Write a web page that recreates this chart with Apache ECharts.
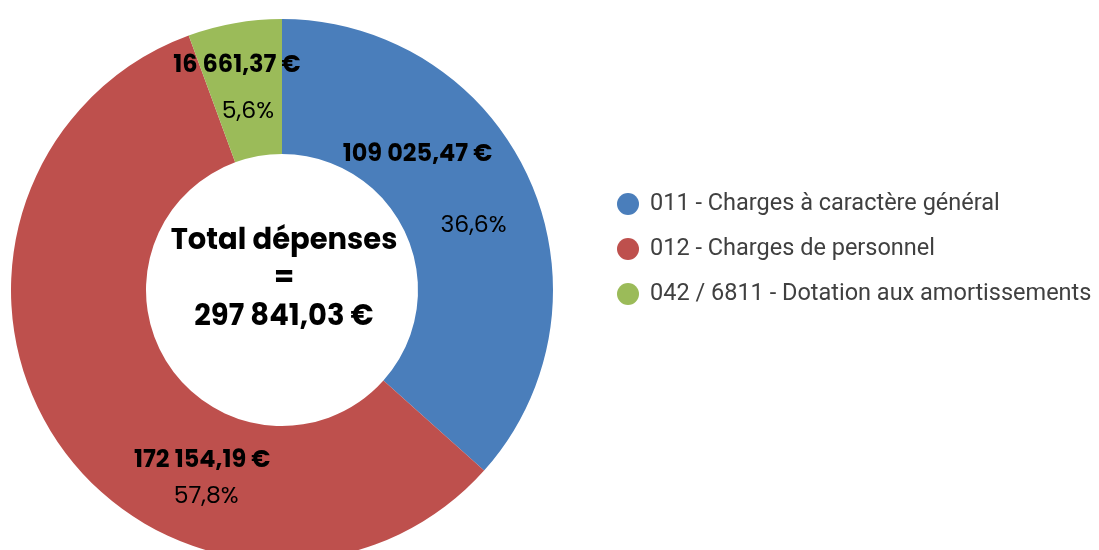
<!DOCTYPE html>
<html>
<head>
<meta charset="utf-8">
<script src="https://cdn.jsdelivr.net/npm/echarts@6/dist/echarts.min.js"></script>
<style>
  html, body { margin: 0; padding: 0; background: #fff; }
  #chart { width: 1099px; height: 550px; }
</style>
</head>
<body>
<div id="chart"></div>
<script>
// Chart data
const categories = [
  "011 - Charges à caractère général",
  "012 - Charges de personnel",
  "042 / 6811 - Dotation aux amortissements"
];
const amounts = [109025.47, 172154.19, 16661.37];
const colors = ["#4A7EBB", "#BE504D", "#9BBB59"];
const totalLabel = "Total dépenses";

// Label nudges from the default 'inside' spot
const valueOffsets = [[-53, -51], [91, 55], [-9, -21]];
const pctOffsets = [[3, 20], [95, 91], [2, 25]];

// French number format: 297 841,03
const fmtEuro = (v) => {
  const parts = v.toFixed(2).split(".");
  const intPart = parts[0].replace(/\B(?=(\d{3})+(?!\d))/g, " ");
  return intPart + "," + parts[1] + " €";
};
const fmtPct = (p) => p.toFixed(1).replace(".", ",") + "%";

const total = amounts.reduce((a, b) => a + b, 0);
const labelFont = "Poppins, 'Open Sans', sans-serif";

const chart = echarts.init(document.getElementById("chart"));

const center = [282, 290];
const radius = [136, 271];

const option = {
  animation: false,
  color: colors,
  title: {
    text: totalLabel + "\n=\n" + fmtEuro(total),
    left: 279,
    top: 218,
    textAlign: "center",
    textStyle: {
      fontFamily: labelFont,
      fontWeight: "bold",
      fontSize: 29,
      lineHeight: 38,
      color: "#000",
    },
  },
  legend: {
    orient: "vertical",
    left: 612,
    top: 187,
    icon: "circle",
    itemWidth: 22,
    itemHeight: 22,
    itemGap: 21,
    data: categories,
    textStyle: {
      fontFamily: "Roboto, Arial, sans-serif",
      fontSize: 23.5,
      lineHeight: 24,
      color: "#404040",
      padding: [0, 0, 0, 6],
    },
  },
  series: [
    {
      name: "values",
      type: "pie",
      center,
      radius,
      startAngle: 90,
      clockwise: true,
      avoidLabelOverlap: false,
      labelLine: { show: false },
      itemStyle: { borderWidth: 0 },
      label: {
        show: true,
        position: "inside",
        fontFamily: labelFont,
        fontWeight: "bold",
        fontSize: 24,
        color: "#000",
        formatter: (p) => fmtEuro(p.value),
      },
      data: categories.map((name, i) => ({
        name,
        value: amounts[i],
        label: { offset: valueOffsets[i] },
      })),
    },
    {
      name: "percent",
      type: "pie",
      center,
      radius,
      startAngle: 90,
      clockwise: true,
      silent: true,
      avoidLabelOverlap: false,
      labelLine: { show: false },
      itemStyle: { color: "transparent", borderWidth: 0 },
      label: {
        show: true,
        position: "inside",
        fontFamily: labelFont,
        fontSize: 23.5,
        color: "#000",
        formatter: (p) => fmtPct((p.value / total) * 100),
      },
      data: categories.map((name, i) => ({
        name,
        value: amounts[i],
        label: { offset: pctOffsets[i] },
      })),
    },
  ],
};

chart.setOption(option);
</script>
</body>
</html>
